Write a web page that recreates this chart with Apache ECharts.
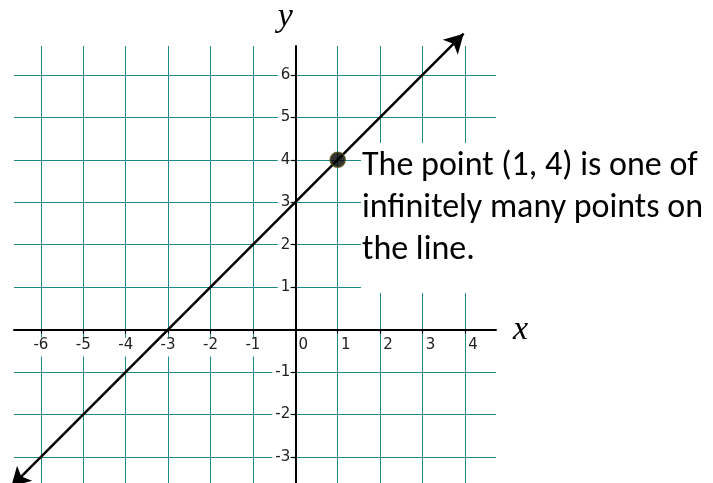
<!DOCTYPE html>
<html>
<head>
<meta charset="utf-8">
<script src="https://cdn.jsdelivr.net/npm/echarts@6/dist/echarts.min.js"></script>
<style>
  html, body { margin: 0; padding: 0; background: #fff; }
  #chart { width: 713px; height: 483px; }
</style>
</head>
<body>
<div id="chart"></div>
<script>
// tick values on each axis
const xTicks = [-6, -5, -4, -3, -2, -1, 0, 1, 2, 3, 4];
const yTicks = [-3, -2, -1, 1, 2, 3, 4, 5, 6];

// the line y = x + 3, drawn between its two arrow ends
const lineX = [-6.7, 3.97];
const lineY = [-3.7, 6.97];

// the marked point
const pointX = [1];
const pointY = [4];

const noteLines = ['The point (1, 4) is one of', 'infinitely many points on', 'the line.'];

const teal = '#1f8888';
const labelFont = 'DejaVu Sans';

// plot box and axis extents
const box = { left: 14, top: 46, width: 482, height: 437 };
const xMin = -6.634, xMax = 4.733;
const yMin = -3.614, yMax = 6.681;

// move both axes from the box edges onto the zero lines
const xAxisOffset = -box.height * (0 - yMin) / (yMax - yMin);
const yAxisOffset = -box.width * (0 - xMin) / (xMax - xMin);

const chart = echarts.init(document.getElementById('chart'));

const option = {
    animation: false,
    backgroundColor: '#fff',
    grid: {
        left: box.left, top: box.top, width: box.width, height: box.height,
        outerBoundsMode: 'none', containLabel: false
    },
    xAxis: {
        type: 'value',
        min: xMin,
        max: xMax,
        offset: xAxisOffset,
        name: 'x',
        nameLocation: 'end',
        nameGap: 17,
        nameTextStyle: { fontFamily: 'Liberation Serif', fontStyle: 'italic', fontSize: 34, color: '#000', verticalAlign: 'middle' },
        axisLine: { onZero: false, lineStyle: { color: '#000', width: 2 } },
        axisTick: { customValues: xTicks, length: 4, lineStyle: { color: '#000', width: 1.2 } },
        axisLabel: {
            customValues: xTicks,
            margin: 9,
            color: '#222',
            fontFamily: labelFont,
            fontSize: 15,
            formatter: v => (v < 0 ? '{neg|' + v + '}' : '{pos|' + v + '}'),
            rich: {
                neg: { fontFamily: labelFont, fontSize: 15, color: '#222', lineHeight: 17, backgroundColor: '#fff', padding: [0, 3, 4, 3] },
                pos: { fontFamily: labelFont, fontSize: 15, color: '#222', lineHeight: 17, padding: [0, 0, 4, 16] }
            }
        },
        splitLine: { show: true, lineStyle: { color: teal, width: 1, opacity: 1 } }
    },
    yAxis: {
        type: 'value',
        min: yMin,
        max: yMax,
        offset: yAxisOffset,
        name: 'y',
        nameLocation: 'end',
        nameGap: 12,
        nameTextStyle: { fontFamily: 'Liberation Serif', fontStyle: 'italic', fontSize: 34, color: '#000', padding: [0, 20, 0, 0] },
        axisLine: { onZero: false, lineStyle: { color: '#000', width: 2 } },
        axisTick: { customValues: yTicks, length: 4, lineStyle: { color: '#000', width: 1.2 } },
        axisLabel: {
            customValues: yTicks,
            margin: 5,
            color: '#222',
            fontFamily: labelFont,
            fontSize: 15,
            backgroundColor: '#fff',
            padding: [1, 0, 1, 3]
        },
        splitLine: { show: true, lineStyle: { color: teal, width: 1, opacity: 1 } }
    },
    graphic: [
        {
            type: 'rect',
            z: 5,
            shape: { x: 361, y: 143, width: 352, height: 150 },
            style: { fill: '#fff' }
        },
        {
            type: 'text',
            z: 6,
            left: 362,
            top: 145,
            style: {
                text: noteLines.join('\n'),
                fontFamily: 'Carlito, Lato, sans-serif',
                fontSize: 34,
                lineHeight: 42,
                fill: '#000'
            }
        }
    ],
    series: [
        {
            type: 'line',
            clip: false,
            z: 8,
            showSymbol: true,
            symbol: 'arrow',
            symbolSize: [16, 19],
            lineStyle: { color: '#000', width: 2.5 },
            itemStyle: { color: '#000' },
            data: [
                { value: [lineX[0], lineY[0]], symbolRotate: 135 },
                { value: [lineX[1], lineY[1]], symbolRotate: -45 }
            ]
        },
        {
            type: 'scatter',
            z: 9,
            symbolSize: 15,
            itemStyle: { color: '#000', borderColor: '#4d4a12', borderWidth: 1.5 },
            data: pointX.map((x, i) => [x, pointY[i]])
        }
    ]
};

chart.setOption(option);
</script>
</body>
</html>
